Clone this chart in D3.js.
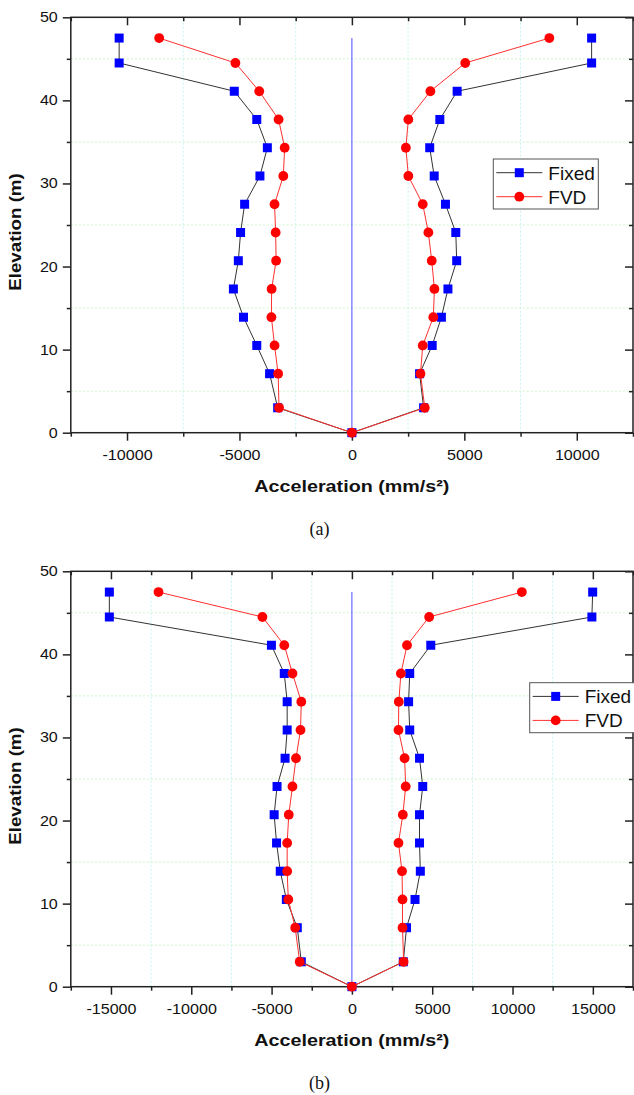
<!DOCTYPE html>
<html>
<head>
<meta charset="utf-8">
<script src="https://cdn.jsdelivr.net/npm/d3@7"></script>
<style>
  html, body { margin: 0; padding: 0; background: #fff; }
  svg { display: block; }
  text { font-family: "Liberation Sans", Arial, sans-serif; fill: #111; }
</style>
</head>
<body>
<svg id="chart" width="634" height="1095"></svg>
<script>
// ---------------- DATA ----------------
const seriesNames = ["Fixed", "FVD"];
const elevations = [47.5, 44.5, 41.1, 37.7, 34.3, 30.9, 27.5, 24.1, 20.7, 17.3, 13.9, 10.5, 7.1, 3.0, 0];

// Chart (a)
const fixedLeftA  = [-10350, -10350, -5230, -4230, -3760, -4090, -4770, -4950, -5050, -5270, -4820, -4230, -3660, -3300, 0];
const fvdLeftA    = [-8570, -5180, -4120, -3260, -2990, -3050, -3440, -3390, -3370, -3570, -3580, -3440, -3280, -3240, 0];
const fixedRightA = [10660, 10660, 4680, 3910, 3460, 3660, 4160, 4620, 4660, 4270, 3980, 3570, 3010, 3190, 0];
const fvdRightA   = [8780, 5040, 3490, 2510, 2400, 2510, 3150, 3400, 3550, 3670, 3620, 3150, 3050, 3240, 0];

// Chart (b)
const fixedLeftB  = [-15100, -15100, -5010, -4210, -4030, -4030, -4160, -4660, -4840, -4690, -4460, -4080, -3400, -3150, 0];
const fvdLeftB    = [-12040, -5570, -4210, -3700, -3150, -3200, -3480, -3700, -3930, -4030, -4030, -3960, -3530, -3250, 0];
const fixedRightB = [14990, 14940, 4910, 3600, 3530, 3600, 4210, 4410, 4210, 4210, 4260, 3930, 3400, 3200, 0];
const fvdRightB   = [10580, 4810, 3430, 3050, 2920, 2900, 3280, 3350, 3170, 2900, 3120, 3150, 3150, 3220, 0];

const xMajorA = [-10000, -5000, 0, 5000, 10000];
const xMajorB = [-15000, -10000, -5000, 0, 5000, 10000, 15000];
const yMajor  = [0, 10, 20, 30, 40, 50];
const yMinor  = [5, 15, 25, 35, 45];
const xTitle = "Acceleration (mm/s²)";
const yTitle = "Elevation (m)";
const captions = ["(a)", "(b)"];

// ---------------- DRAW ----------------
const svg = d3.select("#chart");

function stretch(sel, k) {
  sel.each(function () {
    const w = this.getComputedTextLength();
    this.setAttribute("textLength", w * k);
    this.setAttribute("lengthAdjust", "spacingAndGlyphs");
  });
}

function buildPoints(left, right) {
  const pts = left.map((v, i) => ({ x: v, y: elevations[i] }));
  for (let i = right.length - 2; i >= 0; i--) pts.push({ x: right[i], y: elevations[i] });
  return pts;
}

function drawChart(cfg) {
  const g = svg.append("g");
  const L = 70.8, R = 633;
  const x = d3.scaleLinear().domain([-cfg.xmax, cfg.xmax]).range([L, R]);
  const y = d3.scaleLinear().domain([0, 50]).range([cfg.y0, cfg.y0 - 415.4]);
  const xMinor = d3.range(-cfg.xmax, cfg.xmax + 1, 5000);
  const xMinorInner = xMinor.filter(v => Math.abs(v) < cfg.xmax);

  // grid
  g.append("g").selectAll("line").data(xMinorInner).join("line")
    .attr("x1", d => x(d)).attr("x2", d => x(d))
    .attr("y1", y(0)).attr("y2", y(50))
    .attr("stroke", "#c8f2f2").attr("stroke-width", 1).attr("stroke-dasharray", "2,2");
  g.append("g").selectAll("line").data(yMinor).join("line")
    .attr("x1", L).attr("x2", R)
    .attr("y1", d => y(d)).attr("y2", d => y(d))
    .attr("stroke", "#cdf5cd").attr("stroke-width", 1).attr("stroke-dasharray", "2,2");

  // axes
  const fmt = d => String(d);
  const ax = [];
  ax.push(g.append("g").attr("transform", `translate(0,${y(0)})`)
    .call(d3.axisBottom(x).tickValues(cfg.xMajor).tickSize(8).tickPadding(9).tickFormat(fmt)));
  ax.push(g.append("g").attr("transform", `translate(0,${y(0)})`)
    .call(d3.axisBottom(x).tickValues(xMinor).tickSize(4).tickFormat("")));
  ax.push(g.append("g").attr("transform", `translate(0,${y(50)})`)
    .call(d3.axisTop(x).tickValues(cfg.xMajor).tickSize(-8).tickFormat("")));
  ax.push(g.append("g").attr("transform", `translate(0,${y(50)})`)
    .call(d3.axisTop(x).tickValues(xMinor).tickSize(-4).tickFormat("")));
  ax.push(g.append("g").attr("transform", `translate(${L},0)`)
    .call(d3.axisLeft(y).tickValues(yMajor).tickSize(8).tickPadding(5).tickFormat(fmt)));
  ax.push(g.append("g").attr("transform", `translate(${L},0)`)
    .call(d3.axisLeft(y).tickValues(yMinor).tickSize(4).tickFormat("")));
  ax.push(g.append("g").attr("transform", `translate(${R},0)`)
    .call(d3.axisRight(y).tickValues(yMajor).tickSize(-8).tickFormat("")));
  ax.push(g.append("g").attr("transform", `translate(${R},0)`)
    .call(d3.axisRight(y).tickValues(yMinor).tickSize(-4).tickFormat("")));
  ax.forEach(a => {
    a.select(".domain").remove();
    a.selectAll(".tick line").attr("stroke", "#222").attr("stroke-width", 1.5);
    a.selectAll(".tick text").attr("font-size", 14).attr("fill", "#111");
  });
  stretch(ax[0].selectAll(".tick text"), 1.15);
  stretch(ax[4].selectAll(".tick text"), 1.15);

  // frame
  g.append("rect").attr("x", L).attr("y", y(50)).attr("width", R - L).attr("height", y(0) - y(50))
    .attr("fill", "none").attr("stroke", "#222").attr("stroke-width", 1.5);

  // center line
  g.append("line").attr("x1", x(0)).attr("x2", x(0)).attr("y1", y(0)).attr("y2", y(47.5))
    .attr("stroke", "#4a4aff").attr("stroke-width", 1);

  const line = d3.line().x(d => x(d.x)).y(d => y(d.y));
  const fixedPts = buildPoints(cfg.fixedLeft, cfg.fixedRight);
  const fvdPts = buildPoints(cfg.fvdLeft, cfg.fvdRight);

  g.append("path").datum(fixedPts).attr("d", line).attr("fill", "none").attr("stroke", "#333").attr("stroke-width", 1);
  g.append("g").selectAll("rect").data(fixedPts).join("rect")
    .attr("x", d => x(d.x) - 4.5).attr("y", d => y(d.y) - 4.5).attr("width", 9).attr("height", 9)
    .attr("fill", "#0000ff");
  g.append("path").datum(fvdPts).attr("d", line).attr("fill", "none").attr("stroke", "#ff3030").attr("stroke-width", 1);
  g.append("g").selectAll("circle").data(fvdPts).join("circle")
    .attr("cx", d => x(d.x)).attr("cy", d => y(d.y)).attr("r", 4.9)
    .attr("fill", "#ff0000");

  // titles
  const xt = g.append("text").attr("x", (L + R) / 2).attr("y", y(0) + 59)
    .attr("text-anchor", "middle").attr("font-size", 17).attr("font-weight", "bold").text(xTitle);
  stretch(xt, 1.16);
  const yt = g.append("text").attr("transform", `translate(20.7,${y(25) + 7}) rotate(-90)`)
    .attr("text-anchor", "middle").attr("font-size", 17).attr("font-weight", "bold").text(yTitle);
  stretch(yt, 1.1);

  // caption (serif)
  g.append("text").attr("x", 319.5).attr("y", y(0) + 102).attr("text-anchor", "middle")
    .style("font-family", "'Liberation Serif', 'Times New Roman', serif").attr("font-size", 18).text(cfg.caption);

  // legend
  const lg = g.append("g").attr("transform", `translate(${cfg.legX},${cfg.legY})`);
  lg.append("rect").attr("x", 0).attr("y", 0).attr("width", 105).attr("height", 50)
    .attr("fill", "#fff").attr("stroke", "#555").attr("stroke-width", 1);
  const rows = [13.7, 37.7];
  seriesNames.forEach((name, i) => {
    const ry = rows[i];
    lg.append("line").attr("x1", 3).attr("x2", 49).attr("y1", ry).attr("y2", ry)
      .attr("stroke", i === 0 ? "#333" : "#ff3030").attr("stroke-width", 1);
    if (i === 0) lg.append("rect").attr("x", 26 - 4.5).attr("y", ry - 4.5).attr("width", 9).attr("height", 9).attr("fill", "#0000ff");
    else lg.append("circle").attr("cx", 26).attr("cy", ry).attr("r", 4.9).attr("fill", "#ff0000");
    lg.append("text").attr("x", 55).attr("y", ry + 6.8).attr("font-size", 19).text(name);
  });
}

drawChart({ xmax: 12500, y0: 432.7, xMajor: xMajorA,
  fixedLeft: fixedLeftA, fixedRight: fixedRightA, fvdLeft: fvdLeftA, fvdRight: fvdRightA,
  caption: captions[0], legX: 493.3, legY: 159 });
drawChart({ xmax: 17500, y0: 986.7, xMajor: xMajorB,
  fixedLeft: fixedLeftB, fixedRight: fixedRightB, fvdLeft: fvdLeftB, fvdRight: fvdRightB,
  caption: captions[1], legX: 529.7, legY: 682.7 });
</script>
</body>
</html>
